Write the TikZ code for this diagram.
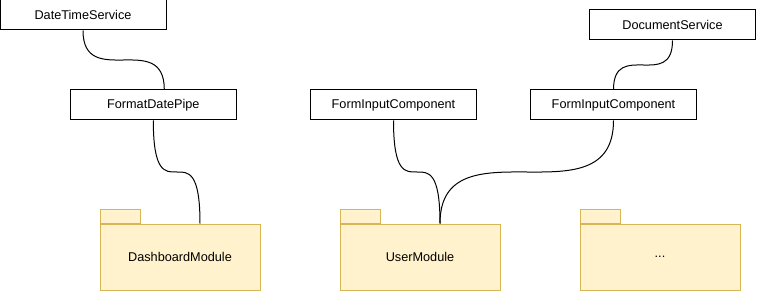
\documentclass[tikz,border=0pt]{standalone}
\usepackage{fontspec}
\setmainfont{Liberation Sans}
\usetikzlibrary{positioning, calc}
\definecolor{pkgfill}{HTML}{FFF2CC}
\definecolor{pkgdraw}{HTML}{D6B656}

\begin{document}
\begin{tikzpicture}[x=1pt, y=-1pt, font=\fontsize{12.7}{15}\selectfont,
    node distance=0pt]
  \tikzset{
    box/.style={draw, line width=1pt, fill=white, inner sep=0pt,
      minimum width=166pt, minimum height=30pt},
    pkg/.style={draw=pkgdraw, fill=pkgfill, line width=1pt, inner sep=0pt,
      minimum width=160pt, minimum height=66pt},
    tab/.style={pkg, minimum width=40pt, minimum height=14pt},
    link/.style={draw, line width=1pt},
  }
  \useasboundingbox (0,0) rectangle (757,291);
  % Services and components
  \node[box] (dts)  at (83,15)    {DateTimeService};
  \node[box] (fdp)  at (153.3,105) {FormatDatePipe};
  \node[box] (fic)  at (393.5,105) {FormInputComponent};
  \node[box] (fic2) at (613.5,105) {FormInputComponent};
  \node[box] (docs) at (672.5,25)  {DocumentService};
  % Modules
  \node[pkg] (dm)  at (180,257) {DashboardModule};
  \node[pkg] (um)  at (420,257) {UserModule};
  \node[pkg] (etc) at (660,257) {...};
  \node[tab, above right=of dm.north west]  (dmtab)  {};
  \node[tab, above right=of um.north west]  (umtab)  {};
  \node[tab, above right=of etc.north west] (etctab) {};
  % Links
  \draw[link] (dts.south) .. controls +(0,60) and +(0,-60)
    .. ([xshift=11pt]fdp.north);
  \draw[link] (fdp.south) .. controls +(0,104) and +(0,-104)
    .. ([xshift=20pt]dm.north);
  \draw[link] (fic.south) .. controls +(0,104) and +(0,-104)
    .. ([xshift=20pt]um.north);
  \draw[link] (fic2.south) .. controls +(0,104) and +(0,-104)
    .. ([xshift=20pt]um.north);
  \draw[link] (docs.south) .. controls +(0,50) and +(0,-50)
    .. (fic2.north);
\end{tikzpicture}
\end{document}
